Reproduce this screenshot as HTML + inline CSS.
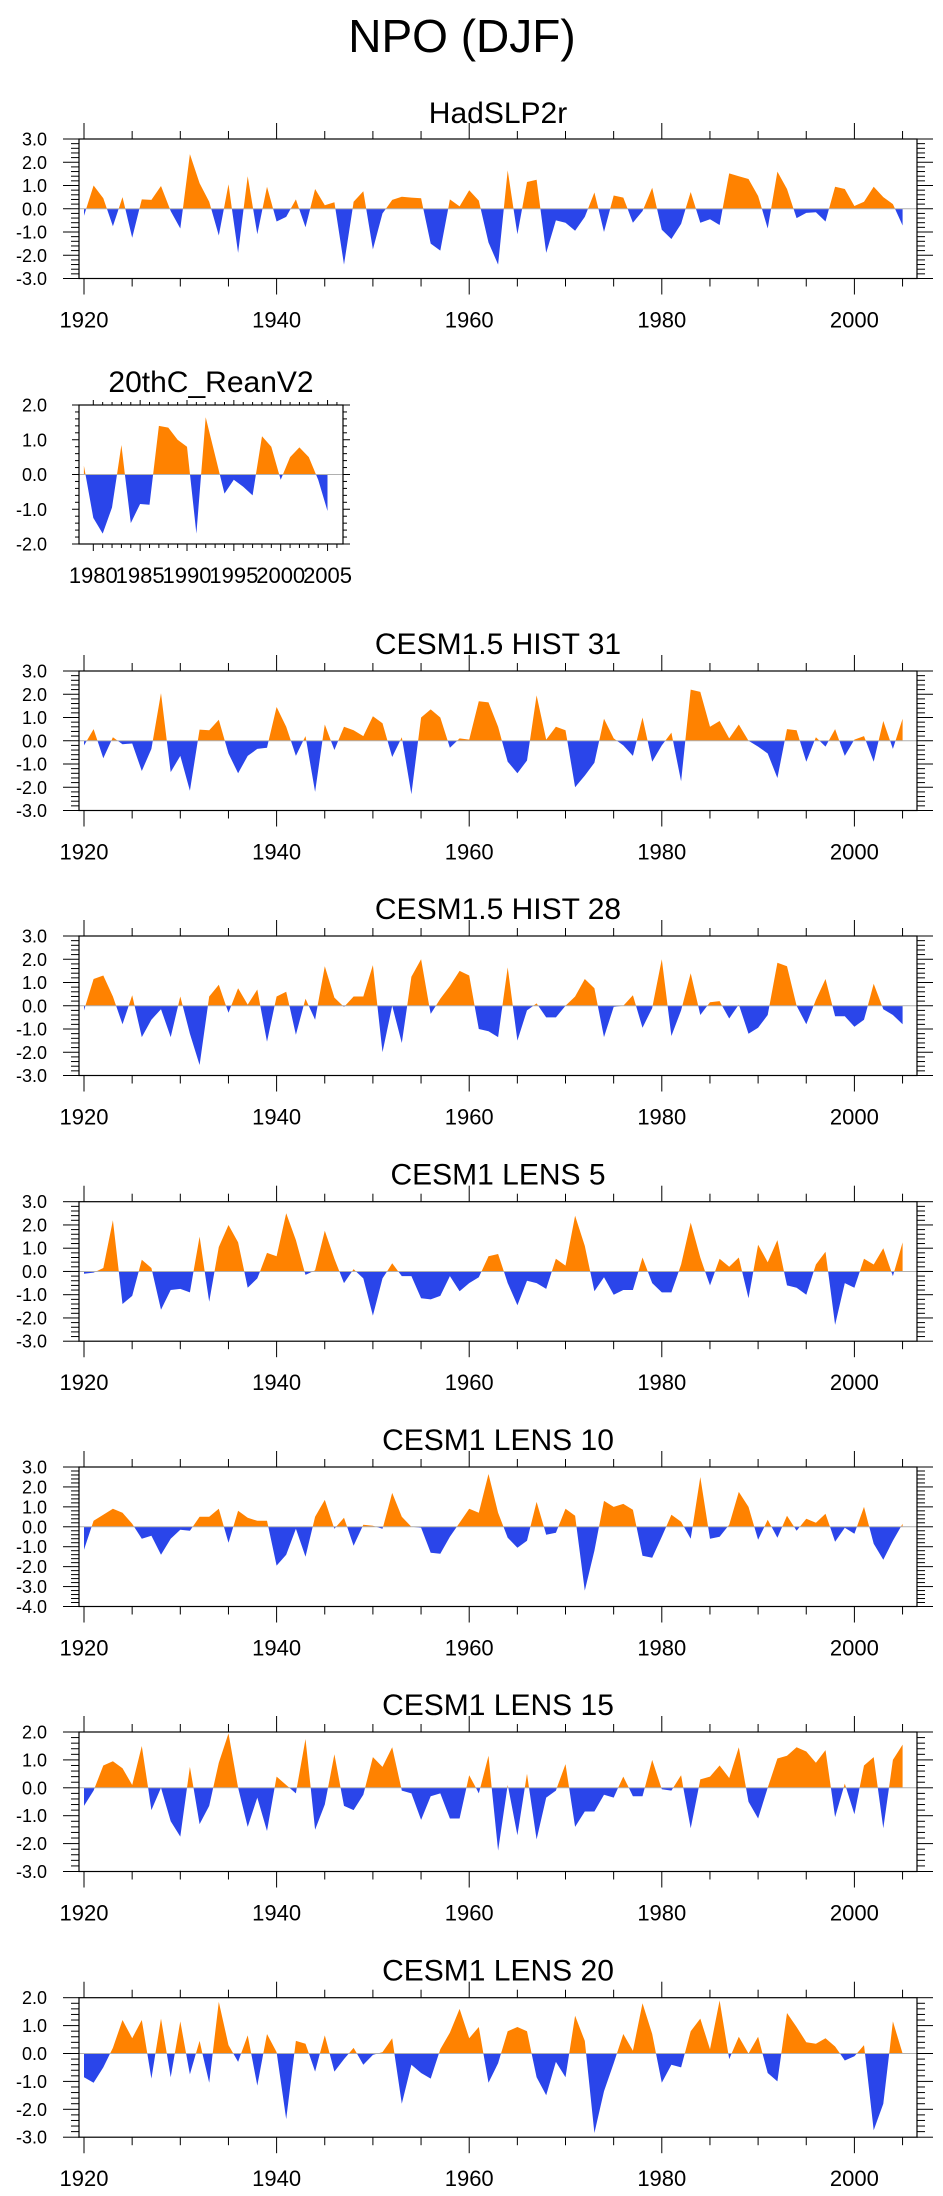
<!DOCTYPE html>
<html><head><meta charset="utf-8">
<style>
html,body{margin:0;padding:0;background:#fff;}
svg{display:block;font-family:"Liberation Sans",Arial,sans-serif;}
</style></head>
<body>
<svg id="chart" width="943" height="2196" viewBox="0 0 943 2196" xmlns="http://www.w3.org/2000/svg">
<text x="462" y="52" font-size="46" text-anchor="middle">NPO (DJF)</text>
</svg>
<script>
// ---- data ----
const yearsLong = [];
for (let y = 1920; y <= 2005; y++) yearsLong.push(y);
const years20c = [];
for (let y = 1979; y <= 2005; y++) years20c.push(y);

const hadslp2r = [-0.3,1.0,0.45,-0.75,0.5,-1.25,0.4,0.38,0.98,-0.1,-0.85,2.35,1.1,0.3,-1.15,1.05,-1.9,1.4,-1.1,0.95,-0.55,-0.35,0.4,-0.8,0.85,0.15,0.28,-2.4,0.3,0.75,-1.75,-0.2,0.38,0.52,0.48,0.45,-1.5,-1.8,0.4,0.1,0.8,0.35,-1.45,-2.4,1.65,-1.1,1.15,1.25,-1.9,-0.5,-0.6,-0.95,-0.35,0.7,-1.0,0.57,0.48,-0.6,-0.1,0.9,-0.9,-1.3,-0.65,0.72,-0.6,-0.45,-0.7,1.52,1.4,1.28,0.55,-0.85,1.6,0.85,-0.4,-0.18,-0.15,-0.55,0.95,0.85,0.12,0.3,0.95,0.5,0.2,-0.72];
const reanv2 = [0.25,-1.25,-1.7,-0.95,0.85,-1.4,-0.85,-0.87,1.4,1.35,1.0,0.8,-1.7,1.65,0.55,-0.55,-0.15,-0.35,-0.6,1.1,0.8,-0.15,0.5,0.78,0.5,-0.15,-1.05];
const hist31 = [-0.2,0.5,-0.75,0.15,-0.15,-0.12,-1.3,-0.35,2.05,-1.35,-0.65,-2.15,0.48,0.45,0.9,-0.55,-1.4,-0.65,-0.35,-0.3,1.45,0.6,-0.65,0.2,-2.2,0.7,-0.4,0.6,0.45,0.2,1.05,0.75,-0.7,0.15,-2.3,1.0,1.35,1.0,-0.3,0.1,0.05,1.7,1.65,0.6,-0.9,-1.4,-0.85,1.95,0.05,0.6,0.45,-2.0,-1.5,-0.95,0.95,0.1,-0.2,-0.65,1.0,-0.9,-0.2,0.35,-1.75,2.2,2.1,0.6,0.85,0.1,0.7,0.0,-0.25,-0.55,-1.6,0.5,0.45,-0.9,0.15,-0.25,0.5,-0.65,0.05,0.2,-0.9,0.85,-0.35,0.95];
const hist28 = [-0.2,1.15,1.3,0.4,-0.8,0.45,-1.35,-0.6,-0.15,-1.35,0.4,-1.2,-2.55,0.4,0.9,-0.3,0.75,0.05,0.7,-1.55,0.4,0.6,-1.25,0.3,-0.6,1.7,0.35,-0.05,0.4,0.4,1.75,-2.0,0.0,-1.6,1.25,2.0,-0.35,0.3,0.85,1.5,1.3,-1.0,-1.1,-1.35,1.65,-1.5,-0.2,0.1,-0.5,-0.5,0.0,0.4,1.15,0.75,-1.35,-0.05,0.0,0.45,-0.95,-0.1,2.0,-1.3,-0.2,1.4,-0.4,0.15,0.2,-0.55,0.05,-1.2,-0.95,-0.4,1.85,1.7,0.0,-0.8,0.25,1.15,-0.45,-0.45,-0.9,-0.6,0.95,-0.15,-0.4,-0.8];
const lens5 = [-0.1,-0.05,0.15,2.2,-1.4,-1.05,0.5,0.15,-1.65,-0.8,-0.75,-0.9,1.5,-1.3,1.05,2.0,1.25,-0.7,-0.3,0.8,0.65,2.5,1.35,-0.15,0.05,1.75,0.55,-0.5,0.1,-0.3,-1.9,-0.3,0.35,-0.2,-0.2,-1.15,-1.2,-1.05,-0.2,-0.85,-0.5,-0.25,0.65,0.75,-0.5,-1.45,-0.4,-0.5,-0.75,0.55,0.25,2.4,1.1,-0.85,-0.25,-1.0,-0.8,-0.8,0.6,-0.5,-0.9,-0.9,0.3,2.1,0.6,-0.6,0.55,0.2,0.6,-1.15,1.15,0.4,1.35,-0.6,-0.7,-1.0,0.3,0.85,-2.3,-0.5,-0.7,0.55,0.3,1.0,-0.2,1.25];
const lens10 = [-1.15,0.3,0.6,0.9,0.7,0.15,-0.6,-0.45,-1.4,-0.6,-0.15,-0.2,0.5,0.5,0.9,-0.8,0.8,0.45,0.3,0.3,-1.95,-1.4,-0.1,-1.5,0.5,1.35,-0.1,0.45,-0.95,0.1,0.05,-0.1,1.7,0.5,0.0,-0.05,-1.3,-1.35,-0.5,0.2,0.9,0.7,2.65,0.7,-0.55,-1.05,-0.7,1.25,-0.4,-0.3,0.9,0.55,-3.2,-1.2,1.3,1.0,1.15,0.85,-1.45,-1.55,-0.5,0.6,0.25,-0.6,2.5,-0.6,-0.5,0.1,1.75,1.0,-0.65,0.35,-0.55,0.55,-0.2,0.4,0.2,0.65,-0.75,-0.05,-0.35,1.0,-0.85,-1.65,-0.7,0.15];
const lens15 = [-0.65,-0.1,0.8,0.95,0.7,0.1,1.5,-0.8,0.0,-1.2,-1.75,0.75,-1.3,-0.65,0.9,1.95,0.0,-1.4,-0.35,-1.55,0.4,0.1,-0.2,1.75,-1.5,-0.6,1.2,-0.65,-0.8,-0.25,1.1,0.75,1.45,-0.1,-0.2,-1.15,-0.3,-0.2,-1.1,-1.1,0.45,-0.2,1.15,-2.25,0.1,-1.7,0.5,-1.85,-0.35,-0.1,0.85,-1.4,-0.85,-0.85,-0.25,-0.35,0.4,-0.3,-0.3,1.0,-0.05,-0.1,0.45,-1.45,0.3,0.4,0.8,0.35,1.45,-0.5,-1.1,0.0,1.05,1.15,1.45,1.3,0.9,1.35,-1.05,0.15,-0.95,0.8,1.1,-1.45,1.0,1.55];
const lens20 = [-0.85,-1.05,-0.5,0.2,1.2,0.55,1.2,-0.9,1.25,-0.85,1.15,-0.75,0.45,-1.05,1.85,0.3,-0.3,0.65,-1.15,0.7,0.05,-2.35,0.45,0.35,-0.65,0.65,-0.65,-0.2,0.2,-0.4,-0.05,0.05,0.55,-1.8,-0.4,-0.7,-0.9,0.15,0.75,1.6,0.55,0.95,-1.05,-0.35,0.8,0.95,0.8,-0.85,-1.5,-0.3,-0.85,1.35,0.45,-2.85,-1.35,-0.35,0.7,0.1,1.8,0.7,-1.05,-0.4,-0.5,0.8,1.25,0.15,1.9,-0.2,0.6,0.0,0.6,-0.7,-1.0,1.45,0.95,0.4,0.35,0.55,0.25,-0.25,-0.1,0.3,-2.75,-1.8,1.15,0.0];

const yTicks6 = ["3.0","2.0","1.0","0.0","-1.0","-2.0","-3.0"];
const yTicks7 = ["3.0","2.0","1.0","0.0","-1.0","-2.0","-3.0","-4.0"];
const yTicks5 = ["2.0","1.0","0.0","-1.0","-2.0","-3.0"];
const yTicks20c = ["2.0","1.0","0.0","-1.0","-2.0"];
const xLabelsLong = [1920,1940,1960,1980,2000];
const xLabels20c = [1980,1985,1990,1995,2000,2005];

const NS = "http://www.w3.org/2000/svg";
const svg = document.getElementById("chart");
function el(tag, attrs, parent) {
  const e = document.createElementNS(NS, tag);
  for (const k in attrs) e.setAttribute(k, attrs[k]);
  (parent || svg).appendChild(e);
  return e;
}

function drawPanel(cfg) {
  const g = el("g", {});
  
  
  const L = cfg.left, R = cfg.right, T = cfg.top, B = cfg.top + cfg.h;
  const ymax = parseFloat(cfg.yTicks[0]), ymin = parseFloat(cfg.yTicks[cfg.yTicks.length - 1]);
  const yS = v => T + (ymax - v) / (ymax - ymin) * (B - T);
  const xS = yr => cfg.x0 + (yr - cfg.y0) * cfg.pxYr;
  const majL = cfg.majLen || 16, minL = cfg.minLen || 8;
  const topMaj = cfg.topMaj || majL, topMin = cfg.topMin || minL;

  const t = el("text", {x: (L + R) / 2, y: T - cfg.titleOff, "font-size": 30, "text-anchor": "middle"}, g);
  t.textContent = cfg.title;
  
  

  const yrs = cfg.years, vals = cfg.values;
  const z = yS(0);
  let pos = [[xS(yrs[0]), z]], neg = [[xS(yrs[0]), z]];
  for (let i = 0; i < vals.length; i++) {
    const x = xS(yrs[i]), v = vals[i];
    if (i > 0) {
      const v0 = vals[i - 1];
      if ((v0 > 0 && v < 0) || (v0 < 0 && v > 0)) {
        const xc = xS(yrs[i - 1]) + (x - xS(yrs[i - 1])) * (v0 / (v0 - v));
        pos.push([xc, z]); neg.push([xc, z]);
      }
    }
    pos.push([x, yS(Math.max(v, 0))]);
    neg.push([x, yS(Math.min(v, 0))]);
  }
  pos.push([xS(yrs[yrs.length - 1]), z]);
  neg.push([xS(yrs[yrs.length - 1]), z]);
  const pp = el("polygon", {points: pos.map(p => p[0].toFixed(1) + "," + p[1].toFixed(1)).join(" "), fill: "#ff8200"}, g);
  
  
  const np = el("polygon", {points: neg.map(p => p[0].toFixed(1) + "," + p[1].toFixed(1)).join(" "), fill: "#2a45ea"}, g);
  
  
  const zl = el("line", {x1: L, x2: R, y1: z, y2: z, stroke: "#b0b0b0", "stroke-width": 1}, g);
  
  

  const box = el("rect", {x: L, y: T, width: R - L, height: B - T, fill: "none", stroke: "#000", "stroke-width": 1.2}, g);
  
  

  const ticks = el("g", {stroke: "#000", "stroke-width": 1}, g);
  
  
  for (let v = ymax; v >= ymin - 1e-6; v -= 0.2) {
    const y = yS(v);
    const major = Math.abs(v - Math.round(v)) < 1e-6;
    const len = major ? majL : minL;
    el("line", {x1: L - len, x2: L, y1: y, y2: y}, ticks);
    el("line", {x1: R, x2: R + len, y1: y, y2: y}, ticks);
  }
  cfg.yTicks.forEach(lbl => {
    const tx = el("text", {x: 47, y: yS(parseFloat(lbl)) + 6.5, "font-size": 18, "text-anchor": "end"}, g);
    tx.textContent = lbl;
    
    
  });

  for (let yr = cfg.tickStart; xS(yr) <= R; yr += cfg.minorStep) {
    const x = xS(yr);
    if (x < L) continue;
    const major = ((yr - cfg.tickStart) % cfg.majorStep) === 0;
    el("line", {x1: x, x2: x, y1: B, y2: B + (major ? majL : minL)}, ticks);
    el("line", {x1: x, x2: x, y1: T - (major ? topMaj : topMin), y2: T}, ticks);
  }
  cfg.xLabels.forEach(yr => {
    const tx = el("text", {x: xS(yr), y: B + cfg.xLabOff, "font-size": 22, "text-anchor": "middle"}, g);
    tx.textContent = String(yr);
    
    
  });
}

const longBase = {left: 79, right: 917, h: 139.5, x0: 84, y0: 1920, pxYr: 9.63, years: yearsLong,
  tickStart: 1920, minorStep: 5, majorStep: 20, xLabels: xLabelsLong, xLabOff: 49, titleOff: 17};

drawPanel(Object.assign({}, longBase, {name: "hadslp2r", title: "HadSLP2r", top: 139, values: hadslp2r, yTicks: yTicks6, titleOff: 16}));
drawPanel({name: "reanv2", title: "20thC_ReanV2", left: 79, right: 343, top: 405, h: 139, x0: 93.3, y0: 1980, pxYr: 9.37,
  years: years20c, values: reanv2, yTicks: yTicks20c, tickStart: 1980, minorStep: 1, majorStep: 5, xLabels: xLabels20c, xLabOff: 39, titleOff: 13,
  majLen: 7, minLen: 4, topMaj: 5, topMin: 3});
drawPanel(Object.assign({}, longBase, {name: "cesm15-hist31", title: "CESM1.5 HIST 31", top: 671, values: hist31, yTicks: yTicks6}));
drawPanel(Object.assign({}, longBase, {name: "cesm15-hist28", title: "CESM1.5 HIST 28", top: 936, values: hist28, yTicks: yTicks6}));
drawPanel(Object.assign({}, longBase, {name: "cesm1-lens5", title: "CESM1 LENS 5", top: 1201.7, values: lens5, yTicks: yTicks6}));
drawPanel(Object.assign({}, longBase, {name: "cesm1-lens10", title: "CESM1 LENS 10", top: 1467, values: lens10, yTicks: yTicks7}));
drawPanel(Object.assign({}, longBase, {name: "cesm1-lens15", title: "CESM1 LENS 15", top: 1732, values: lens15, yTicks: yTicks5}));
drawPanel(Object.assign({}, longBase, {name: "cesm1-lens20", title: "CESM1 LENS 20", top: 1997.7, values: lens20, yTicks: yTicks5}));
</script>
</body></html>
